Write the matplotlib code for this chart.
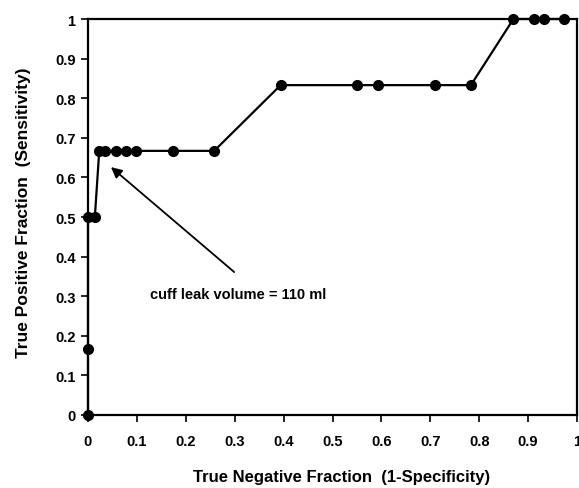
#!/usr/bin/env python
"""
ROC curve for cuff leak volume
"""
import matplotlib
matplotlib.use('Agg')
import matplotlib.pyplot as plt

# data
fpr = [0.0, 0.0, 0.0, 0.014, 0.023, 0.035, 0.057, 0.077, 0.099, 0.173, 0.258,
       0.394, 0.551, 0.593, 0.709, 0.783, 0.870, 0.912, 0.933, 0.974]
tpr = [0.0, 0.167, 0.5, 0.5, 0.667, 0.667, 0.667, 0.667, 0.667, 0.667, 0.667,
       0.833, 0.833, 0.833, 0.833, 0.833, 1.0, 1.0, 1.0, 1.0]
ticks = [0, 0.1, 0.2, 0.3, 0.4, 0.5, 0.6, 0.7, 0.8, 0.9, 1]
tick_labels = ['0', '0.1', '0.2', '0.3', '0.4', '0.5', '0.6', '0.7',
               '0.8', '0.9', '1']
note = 'cuff leak volume = 110 ml'
note_xy = (0.047, 0.626)
note_text_xy = (0.306, 0.306)
arrow_tail = (0.299, 0.361)

plt.rcParams['font.family'] = ['Liberation Sans', 'DejaVu Sans']
plt.rcParams['font.weight'] = 'bold'
plt.rcParams['axes.labelweight'] = 'bold'

fig = plt.figure(figsize=(5.79, 4.89), dpi=100)
ax = fig.add_axes([88 / 579, 1 - 416 / 489, 489 / 579, 396 / 489])

ax.plot(fpr, tpr, '-', color='black', lw=1.6, marker='o', ms=7,
        clip_on=False, zorder=3)

ax.set_xlim(0, 1)
ax.set_ylim(0, 1)
ax.set_xticks(ticks)
ax.set_xticklabels(tick_labels)
ax.set_yticks(ticks)
ax.set_yticklabels(tick_labels)
ax.tick_params(direction='out', length=5, width=1.2, labelsize=10.5,
               colors='black')
ax.tick_params(axis='x', pad=9)
ax.tick_params(axis='y', pad=4)
for s in ax.spines.values():
    s.set_linewidth(1.6)

ax.set_xlabel('True Negative Fraction  (1-Specificity)', fontsize=12)
ax.set_ylabel('True Positive Fraction  (Sensitivity)', fontsize=12.5)
ax.xaxis.set_label_coords(0.519, -0.136)
ax.yaxis.set_label_coords(-0.117, 0.513)

ax.text(note_text_xy[0], note_text_xy[1], note, fontsize=10.5,
        ha='center', va='center')
ax.annotate('', xy=note_xy, xytext=arrow_tail,
            arrowprops=dict(arrowstyle='-|>', color='black', lw=1.3,
                            mutation_scale=16, shrinkA=0, shrinkB=0))

fig.savefig('out.png', dpi=100)
